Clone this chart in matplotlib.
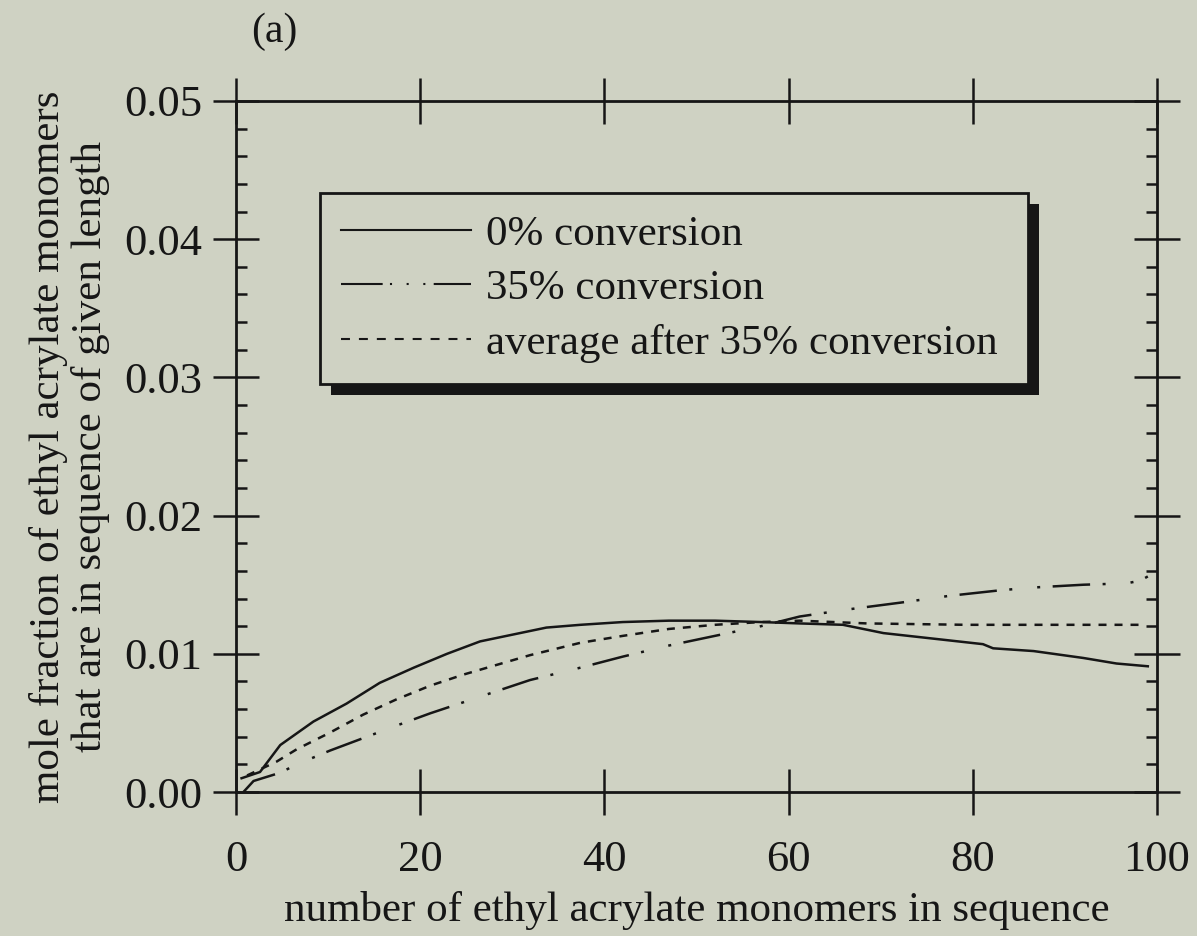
import matplotlib
matplotlib.use("Agg")
import matplotlib.pyplot as plt
import matplotlib.patheffects as pe
from matplotlib.lines import Line2D
from matplotlib.ticker import MultipleLocator

# values
x_conv0 = [0.6, 2.6, 4.8, 8.4, 12.0, 15.6, 19.3, 22.9, 26.5, 30.1, 33.7, 37.4,
           42, 47, 52, 57, 61.2, 65.9, 70.3, 75.7, 81.1, 82.2, 86.6, 92.0, 95.6, 99]
y_conv0 = [0.0010, 0.00145, 0.0034, 0.0051, 0.0064, 0.0079, 0.0090, 0.0100, 0.0109,
           0.0114, 0.0119, 0.0121, 0.0123, 0.0124, 0.0124, 0.0123, 0.0122, 0.0121,
           0.0115, 0.0111, 0.0107, 0.0104, 0.0102, 0.0097, 0.0093, 0.0091]

x_conv35 = [0.8, 1.9, 4.8, 6.6, 10.2, 13.8, 17.4, 21.1, 24.7, 28.3, 31.9, 37.4, 42,
            47, 52, 57, 61.2, 66.3, 72.1, 77.5, 83.0, 86.6, 92.0, 96.7, 98.2, 99]
y_conv35 = [0.0, 0.0008, 0.0014, 0.0020, 0.0030, 0.0039, 0.0048, 0.0057, 0.0065,
            0.0073, 0.0081, 0.0090, 0.0098, 0.0106, 0.0113, 0.0120, 0.0127, 0.0132,
            0.0137, 0.0142, 0.0146, 0.0148, 0.0150, 0.0151, 0.0153, 0.0156]

x_avg35 = [1.2, 4.4, 6.6, 10.2, 13.8, 17.4, 21.1, 24.7, 28.3, 31.9, 37.4, 42, 47,
           52, 57, 61.2, 68.5, 79.3, 90.2, 98.5]
y_avg35 = [0.0012, 0.0022, 0.0031, 0.0043, 0.0056, 0.0067, 0.0077, 0.0085, 0.0092,
           0.0099, 0.0108, 0.0113, 0.0118, 0.0121, 0.0123, 0.0124, 0.0122, 0.0121,
           0.0121, 0.0121]

labels = ["0% conversion", "35% conversion", "average after 35% conversion"]
xticks = [0, 20, 40, 60, 80, 100]
yticks = [0.00, 0.01, 0.02, 0.03, 0.04, 0.05]

bg = "#cfd2c3"
ink = "#161616"
plt.rcParams["font.family"] = ["Liberation Serif", "DejaVu Serif"]

fig = plt.figure(figsize=(11.97, 9.36), dpi=100, facecolor=bg)
ax = fig.add_axes([0.1972, 0.1538, 0.7694, 0.7383], facecolor=bg)

ax.plot(x_conv0, y_conv0, color=ink, lw=1.8)
ax.plot(x_conv35, y_conv35, color=ink, lw=1.8,
        dashes=(15, 5, 1.2, 10, 1.2, 5))
ax.plot(x_avg35, y_avg35, color=ink, lw=1.8, dashes=(3.2, 3.2))

ax.set_xlim(0, 100)
ax.set_ylim(0, 0.05)
ax.set_xticks(xticks)
ax.set_yticks(yticks)
ax.set_yticklabels([f"{v:.2f}" for v in yticks])
ax.yaxis.set_minor_locator(MultipleLocator(0.002))

for s in ax.spines.values():
    s.set_linewidth(2.0)
    s.set_color(ink)
ax.tick_params(which="major", direction="inout", length=33, width=1.8,
               color=ink, labelsize=32, labelcolor=ink, pad=8,
               top=True, right=True)
ax.tick_params(axis="x", which="major", pad=18)
ax.tick_params(which="minor", direction="in", length=8, width=1.8,
               color=ink, left=True, right=True)
ax.tick_params(axis="x", which="minor", bottom=False, top=False)

ax.set_xlabel("number of ethyl acrylate monomers in sequence",
              fontsize=31, color=ink, labelpad=8)
ax.set_ylabel("mole fraction of ethyl acrylate monomers\nthat are in sequence of given length",
              fontsize=31, color=ink, labelpad=10, linespacing=1.1)
fig.text(0.229, 0.966, "(a)", fontsize=30, color=ink, ha="center", va="center")

handles = [Line2D([], [], color=ink, lw=1.5),
           Line2D([], [], color=ink, lw=1.5, dashes=(20, 3.5, 1, 7, 1, 7, 1, 4)),
           Line2D([], [], color=ink, lw=1.5, dashes=(4.3, 4.3))]
leg = ax.legend(handles, labels, loc="upper left",
                bbox_to_anchor=(0.091, 0.5, 0.769, 0.367), mode="expand",
                borderaxespad=0, borderpad=0.5, handlelength=3.0,
                handletextpad=0.35, labelspacing=0.36, fontsize=31,
                fancybox=False, framealpha=1)
frame = leg.get_frame()
frame.set_facecolor(bg)
frame.set_edgecolor(ink)
frame.set_linewidth(2.0)
frame.set_path_effects([pe.withSimplePatchShadow(offset=(8, -8), shadow_rgbFace=ink,
                                                 alpha=1.0)])
for t in leg.get_texts():
    t.set_color(ink)

fig.savefig("out.png", dpi=100, facecolor=bg)
